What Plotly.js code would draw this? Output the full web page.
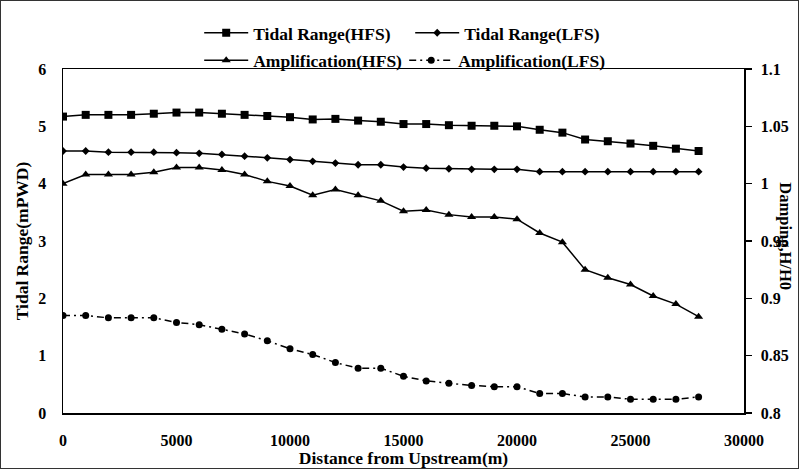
<!DOCTYPE html>
<html>
<head>
<meta charset="utf-8">
<script src="https://cdn.plot.ly/plotly-3.0.1.min.js"></script>
<style>
  html, body { margin: 0; padding: 0; background: #fff; }
  #chart { width: 797px; height: 467px; border: 1px solid #333; }
</style>
</head>
<body>
<div id="chart"></div>
<script>
// ---- data ----
const distance = [0, 1000, 2000, 3000, 4000, 5000, 6000, 7000, 8000, 9000,
  10000, 11000, 12000, 13000, 14000, 15000, 16000, 17000, 18000, 19000,
  20000, 21000, 22000, 23000, 24000, 25000, 26000, 27000, 28000];

const tidalRangeHFS = [5.17, 5.2, 5.2, 5.2, 5.22, 5.24, 5.24, 5.22, 5.2, 5.18,
  5.16, 5.12, 5.13, 5.1, 5.08, 5.04, 5.04, 5.02, 5.01, 5.01,
  5.0, 4.94, 4.89, 4.77, 4.74, 4.7, 4.66, 4.61, 4.57];

const tidalRangeLFS = [4.57, 4.57, 4.55, 4.55, 4.55, 4.54, 4.53, 4.51, 4.48, 4.45,
  4.42, 4.39, 4.36, 4.33, 4.33, 4.29, 4.27, 4.26, 4.25, 4.25,
  4.25, 4.21, 4.21, 4.21, 4.21, 4.21, 4.21, 4.21, 4.21];

const amplificationHFS = [1.0, 1.008, 1.008, 1.008, 1.01, 1.014, 1.014, 1.012, 1.008, 1.002,
  0.998, 0.99, 0.995, 0.99, 0.985, 0.976, 0.977, 0.973, 0.971, 0.971,
  0.969, 0.957, 0.949, 0.925, 0.918, 0.912, 0.902, 0.895, 0.884];

const amplificationLFS = [0.885, 0.885, 0.883, 0.883, 0.883, 0.879, 0.877, 0.873, 0.869, 0.863,
  0.856, 0.851, 0.844, 0.839, 0.839, 0.832, 0.828, 0.826, 0.824, 0.823,
  0.823, 0.817, 0.817, 0.814, 0.814, 0.812, 0.812, 0.812, 0.814];

const seriesNames = ['Tidal Range(HFS)', 'Tidal Range(LFS)', 'Amplification(HFS)', 'Amplification(LFS)'];

const xTickVals = [0, 5000, 10000, 15000, 20000, 25000, 30000];
const xTickText = ['0', '5000', '10000', '15000', '20000', '25000', '30000'];
const yTickVals = [0, 1, 2, 3, 4, 5, 6];
const yTickText = ['0', '1', '2', '3', '4', '5', '6'];
const y2TickVals = [0.8, 0.85, 0.9, 0.95, 1.0, 1.05, 1.1];
const y2TickText = ['0.8', '0.85', '0.9', '0.95', '1', '1.05', '1.1'];

const xTitle = 'Distance from Upstream(m)';
const yTitle = 'Tidal Range(mPWD)';
const y2Title = 'Damping,H/H0';

// ---- styling ----
const FONT = 'Liberation Serif, Times New Roman, serif';
const bold = (size) => ({ family: FONT, size: size, color: '#000', weight: 'bold' });

const traces = [
  {
    x: distance, y: tidalRangeHFS, name: seriesNames[0], type: 'scatter', mode: 'lines+markers',
    line: { color: '#000', width: 1.5 },
    marker: { symbol: 'square', size: 8, color: '#000' },
    legend: 'legend'
  },
  {
    x: distance, y: tidalRangeLFS, name: seriesNames[1], type: 'scatter', mode: 'lines+markers',
    line: { color: '#000', width: 1.5 },
    marker: { symbol: 'diamond', size: 6, color: '#000' },
    legend: 'legend'
  },
  {
    x: distance, y: amplificationHFS, name: seriesNames[2], type: 'scatter', mode: 'lines+markers',
    yaxis: 'y2',
    line: { color: '#000', width: 1.5 },
    marker: { symbol: 'triangle-up', size: 8, color: '#000' },
    legend: 'legend2'
  },
  {
    x: distance, y: amplificationLFS, name: seriesNames[3], type: 'scatter', mode: 'lines+markers',
    yaxis: 'y2',
    line: { color: '#000', width: 1.5, dash: '7px,4px,2px,4px' },
    marker: { symbol: 'circle', size: 7, color: '#000' },
    legend: 'legend2'
  }
];

const layout = {
  width: 797,
  height: 467,
  margin: { l: 62, r: 54, t: 68, b: 55 },
  paper_bgcolor: '#fff',
  plot_bgcolor: '#fff',
  font: bold(16),
  showlegend: true,
  legend: {
    orientation: 'h', x: 0.2, xanchor: 'left', y: 1.105, yanchor: 'middle',
    entrywidth: 152, itemwidth: 44, font: bold(17.5), bgcolor: 'rgba(0,0,0,0)', borderwidth: 0
  },
  legend2: {
    orientation: 'h', x: 0.2, xanchor: 'left', y: 1.025, yanchor: 'middle',
    entrywidth: 146, itemwidth: 44, font: bold(17.5), bgcolor: 'rgba(0,0,0,0)', borderwidth: 0
  },
  xaxis: {
    range: [0, 30000], tickvals: xTickVals, ticktext: xTickText,
    showline: true, linecolor: '#000', linewidth: 1.5, mirror: true,
    showgrid: false, zeroline: false, ticks: '',
    ticklabelstandoff: 12,
    tickfont: bold(16),
    title: { text: xTitle, font: bold(17.5), standoff: 2 },
    automargin: false
  },
  yaxis: {
    range: [0, 6], tickvals: yTickVals, ticktext: yTickText,
    showline: true, linecolor: '#000', linewidth: 1.5,
    showgrid: false, zeroline: false, ticks: '',
    ticklabelstandoff: 12,
    tickfont: bold(16),
    title: { text: yTitle, font: bold(17.5), standoff: 5 },
    automargin: false
  },
  yaxis2: {
    overlaying: 'y', side: 'right',
    range: [0.8, 1.1], tickvals: y2TickVals, ticktext: y2TickText,
    showline: true, linecolor: '#000', linewidth: 1.5,
    showgrid: false, zeroline: false,
    ticks: 'outside', ticklen: 6, tickwidth: 1.5, tickcolor: '#000',
    ticklabelstandoff: 6,
    tickfont: bold(16),
    automargin: false
  },
  annotations: [
    {
      text: y2Title, textangle: 90, xref: 'paper', yref: 'paper',
      x: 1.061, y: 0.515, xanchor: 'center', yanchor: 'middle',
      showarrow: false, font: bold(16.5)
    }
  ]
};

Plotly.newPlot('chart', traces, layout, { displayModeBar: false, staticPlot: true });
</script>
</body>
</html>
